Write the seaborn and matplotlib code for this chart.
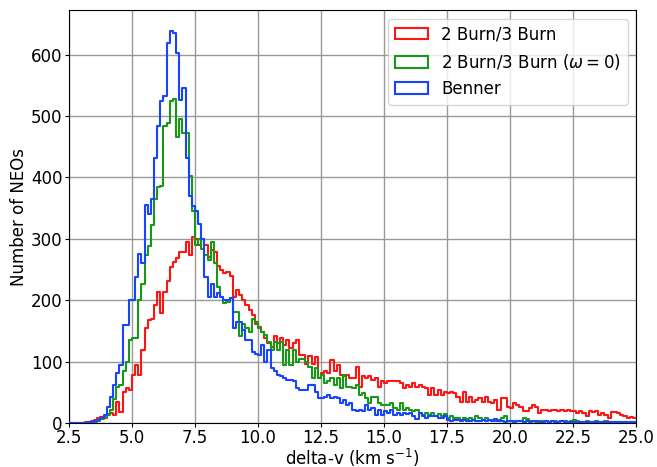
import numpy as np
import pandas as pd
import matplotlib
matplotlib.use("Agg")
import matplotlib.pyplot as plt
import seaborn as sns
from matplotlib.patches import Patch

# ---- data (counts per 0.125 km/s bin, starting at 2.5 km/s) ----
bin_start = 2.5
bin_width = 0.125

benner = [
    0, 0, 0, 0, 0, 0, 1, 2,
    3, 5, 8, 13, 27, 43, 62, 81, 95, 160, 160, 200, 200, 238, 276, 260, 355, 341, 365, 432, 484, 525,
    533, 618, 639, 635, 603, 526, 546, 432, 370, 354, 346, 324, 300, 238, 205, 227, 205, 211, 205, 200,
    200, 203, 154, 165, 165, 151, 135, 135, 116, 113, 111, 127, 100, 119, 89, 84, 78, 76, 73, 70, 70, 68, 57, 54,
    54, 54, 62, 62, 51, 41, 41, 43, 46, 41, 43, 41, 32, 38, 30, 32, 22, 19, 22, 19, 30, 22, 24, 14, 22, 14, 19, 16, 22, 14,
    16, 14, 16, 15, 16, 12, 7, 16, 11, 8, 12, 12, 11, 8, 8, 11, 5, 3, 5, 5, 3, 5, 3, 3, 5, 3, 4, 5, 3, 5, 3, 7, 3, 4, 2, 3,
    3, 2, 4, 3, 2, 3, 2, 4, 3, 2, 2, 3, 2, 3, 2, 2, 3, 2, 1, 2, 2, 1, 2, 2, 1, 1, 2, 1, 1, 2, 1, 1, 1, 2, 1, 1, 1, 0, 1, 1,
]

burn_w0 = [
    0, 0, 0, 0, 0, 0, 1, 1,
    2, 4, 6, 10, 14, 22, 40, 59, 62, 84, 100, 135, 138, 138, 200, 227, 273, 289, 322, 365, 384, 386,
    484, 489, 524, 527, 465, 495, 473, 473, 403, 346, 290, 300, 284, 273, 265, 295, 260, 222, 205, 195,
    197, 203, 181, 181, 141, 162, 154, 149, 170, 165, 154, 149, 143, 132, 119, 132, 119, 132, 95, 119, 95, 119, 100, 105,
    105, 100, 92, 73, 89, 73, 78, 65, 68, 73, 62, 73, 57, 78, 59, 59, 57, 62, 46, 49, 41, 32, 43, 43, 32, 30, 30, 30, 32, 24,
    22, 32, 22, 24, 22, 19, 22, 16, 14, 16, 14, 16, 11, 15, 12, 15, 8, 12, 9, 8, 5, 8, 7, 8, 5, 11, 9, 5, 8, 5, 5, 4, 5, 8, 11, 3,
    3, 4, 3, 4, 8, 6, 3, 3, 2, 3, 4, 3, 2, 3, 3, 2, 4, 3, 2, 3, 5, 3, 2, 2, 3, 2, 2, 3, 2, 2, 3, 2, 1, 2, 2, 1, 2, 1, 2, 1,
]

burn = [
    0, 0, 0, 0, 0, 1, 2, 3,
    5, 9, 10, 8, 15, 16, 14, 35, 18, 50, 57, 54, 78, 95, 78, 119, 154, 168, 170, 192, 213, 180,
    213, 232, 254, 262, 268, 278, 278, 295, 273, 303, 300, 290, 300, 290, 270, 282, 279, 255, 250, 245,
    246, 240, 205, 216, 208, 200, 192, 184, 176, 162, 157, 149, 138, 130, 124, 141, 130, 138, 127, 135, 122, 130, 135, 111,
    111, 97, 110, 97, 108, 73, 81, 84, 81, 103, 84, 95, 78, 76, 78, 73, 73, 92, 59, 76, 73, 76, 70, 73, 59, 68, 65, 68, 68, 68,
    68, 65, 57, 62, 59, 65, 59, 62, 59, 57, 46, 57, 46, 54, 46, 51, 49, 51, 49, 43, 35, 51, 35, 43, 35, 38, 41, 35, 43, 35, 32, 38, 22, 41, 41, 27,
    25, 32, 30, 27, 20, 20, 24, 29, 27, 16, 22, 22, 19, 22, 22, 19, 22, 19, 22, 20, 19, 16, 20, 16, 11, 19, 18, 19, 14, 16, 14, 8, 18, 18, 16, 14, 11, 8, 10, 9,
]

labels = ["2 Burn/3 Burn", r"2 Burn/3 Burn ($\omega=0$)", "Benner"]
colors = ["#ff1414", "#179917", "#1745ff"]
xticks = [2.5, 5.0, 7.5, 10.0, 12.5, 15.0, 17.5, 20.0, 22.5, 25.0]
yticks = [0, 100, 200, 300, 400, 500, 600]

# ---- figure (matplotlib default look) ----
plt.rcParams["font.family"] = ["DejaVu Sans"]

nbins = len(benner)
edges = [bin_start + bin_width * i for i in range(nbins + 1)]
centers = [e + bin_width / 2 for e in edges[:-1]]

fig, ax = plt.subplots(figsize=(6.57, 4.67), dpi=100)
fig.subplots_adjust(left=0.105, right=0.968, top=0.978, bottom=0.094)

for series, lab, col in zip([burn, burn_w0, benner], labels, colors):
    df = pd.DataFrame({"dv": centers, "n": series})
    sns.histplot(data=df, x="dv", weights="n", bins=edges, element="step",
                 fill=False, color=col, linewidth=1.5, ax=ax, zorder=3)

ax.set_xlim(2.5, 25.0)
ax.set_ylim(0, 672)
ax.set_xticks(xticks)
ax.set_yticks(yticks)
ax.tick_params(labelsize=12, length=3, pad=1.5)
ax.grid(True, color="#999999", linewidth=1.0, zorder=0)
ax.set_axisbelow(True)

ax.set_xlabel(r"delta-v (km s$^{-1}$)", fontsize=12, labelpad=0)
ax.set_ylabel("Number of NEOs", fontsize=12, labelpad=2)

handles = [Patch(facecolor="none", edgecolor=c, linewidth=1.5, label=l)
           for c, l in zip(colors, labels)]
ax.legend(handles=handles, loc="upper right", fontsize=12)

fig.savefig("out.png", dpi=100)
